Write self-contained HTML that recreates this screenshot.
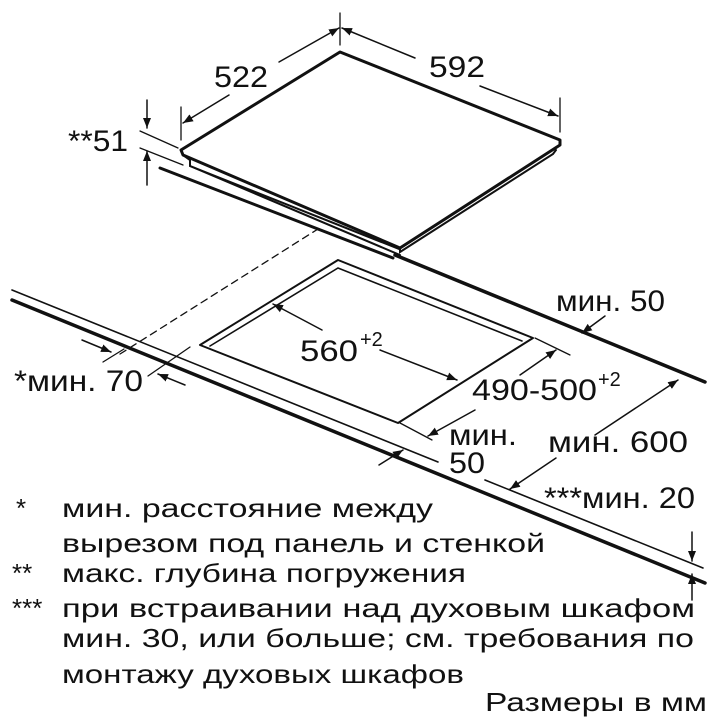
<!DOCTYPE html>
<html><head><meta charset="utf-8"><style>
html,body{margin:0;padding:0;background:#fff}
svg{display:block}
text{font-family:"Liberation Sans",sans-serif;fill:#111}
</style></head><body>
<svg width="720" height="720" viewBox="0 0 720 720" xmlns="http://www.w3.org/2000/svg">
<defs>
<marker id="a" viewBox="0 0 10 10" refX="10" refY="5" markerWidth="10" markerHeight="10" orient="auto-start-reverse" markerUnits="userSpaceOnUse"><path d="M0,1 L10,5 L0,9 z" fill="#111"/></marker>
</defs>
<g stroke="#111" fill="none" stroke-linecap="round">
<path d="M340,52 L181,150 L183,155 L400,248 L560,145 L560,140 Z" stroke-width="3" stroke-linejoin="round"/>
<path d="M183,155 L190,160 L190,166 L399,249" stroke-width="2"/>
<path d="M400,248 L400,252 L553,154 L556,150" stroke-width="2"/>
<path d="M190,166 L400,255" stroke-width="2"/>
<path d="M160,168 L393,258" stroke-width="3"/>
<line x1="340" y1="13" x2="340" y2="45" stroke-width="1.3"/>
<line x1="181" y1="107" x2="181" y2="140" stroke-width="1.3"/>
<line x1="560" y1="98" x2="560" y2="132" stroke-width="1.3"/>
<line x1="279" y1="62" x2="339" y2="28" stroke-width="1.5" marker-end="url(#a)"/>
<line x1="229" y1="95" x2="183" y2="123" stroke-width="1.5" marker-end="url(#a)"/>
<line x1="415" y1="58" x2="342" y2="28" stroke-width="1.5" marker-end="url(#a)"/>
<line x1="480" y1="86" x2="558" y2="116" stroke-width="1.5" marker-end="url(#a)"/>
<line x1="147" y1="100" x2="147" y2="128" stroke-width="1.5" marker-end="url(#a)"/>
<line x1="147" y1="185" x2="147" y2="151" stroke-width="1.5" marker-end="url(#a)"/>
<line x1="140" y1="131" x2="178" y2="148" stroke-width="1.3"/>
<line x1="140" y1="148" x2="183" y2="165" stroke-width="1.3"/>
<path d="M12,300 L705,583" stroke-width="3.5"/>
<path d="M12,290 L438,462" stroke-width="1.6"/>
<path d="M485,480 L703,568" stroke-width="1.6"/>
<path d="M395,255 L705,382" stroke-width="3.5"/>
<path d="M120,354 L318,229" stroke-width="1.3" stroke-dasharray="7,5"/>
<path d="M338,260 L200,345 L398,423 L533,338 Z" stroke-width="2" stroke-linejoin="round"/>
<path d="M210,346 L338,268 L522,341" stroke-width="1.6"/>
<line x1="322" y1="330" x2="273" y2="304" stroke-width="1.5" marker-end="url(#a)"/>
<line x1="380" y1="350" x2="457" y2="380" stroke-width="1.5" marker-end="url(#a)"/>
<line x1="535" y1="338" x2="570" y2="355" stroke-width="1.3"/>
<line x1="400" y1="423" x2="432" y2="440" stroke-width="1.3"/>
<line x1="520" y1="375" x2="556" y2="350" stroke-width="1.5" marker-end="url(#a)"/>
<line x1="475" y1="410" x2="428" y2="436" stroke-width="1.5" marker-end="url(#a)"/>
<line x1="595" y1="435" x2="678" y2="380" stroke-width="1.5" marker-end="url(#a)"/>
<line x1="556" y1="458" x2="510" y2="489" stroke-width="1.5" marker-end="url(#a)"/>
<line x1="605" y1="316" x2="582" y2="333" stroke-width="1.5" marker-end="url(#a)"/>
<line x1="379" y1="465" x2="403" y2="450" stroke-width="1.5" marker-end="url(#a)"/>
<line x1="82" y1="340" x2="111" y2="352" stroke-width="1.5" marker-end="url(#a)"/>
<line x1="185" y1="385" x2="158" y2="374" stroke-width="1.5" marker-end="url(#a)"/>
<line x1="103" y1="362" x2="124" y2="349" stroke-width="1.3"/>
<line x1="148" y1="376" x2="190" y2="347" stroke-width="1.3"/>
<line x1="692" y1="532" x2="692" y2="561" stroke-width="1.5" marker-end="url(#a)"/>
<line x1="692" y1="600" x2="692" y2="574" stroke-width="1.5" marker-end="url(#a)"/>
</g>
<g font-size="30">
<text x="214" y="87" textLength="54" lengthAdjust="spacingAndGlyphs">522</text>
<text x="429" y="77" textLength="56" lengthAdjust="spacingAndGlyphs">592</text>
<text x="68" y="151" textLength="60" lengthAdjust="spacingAndGlyphs">**51</text>
<text x="556" y="311" textLength="109" lengthAdjust="spacingAndGlyphs">мин. 50</text>
<text x="300" y="361" textLength="58" lengthAdjust="spacingAndGlyphs">560</text>
<text x="360" y="346" font-size="20">+2</text>
<text x="472" y="400" textLength="125" lengthAdjust="spacingAndGlyphs">490-500</text>
<text x="598" y="386" font-size="20">+2</text>
<text x="14" y="391" textLength="129" lengthAdjust="spacingAndGlyphs">*мин. 70</text>
<text x="449" y="445" textLength="68" lengthAdjust="spacingAndGlyphs">мин.</text>
<text x="449" y="473" textLength="36" lengthAdjust="spacingAndGlyphs">50</text>
<text x="548" y="452" textLength="140" lengthAdjust="spacingAndGlyphs">мин. 600</text>
<text x="544" y="508" textLength="151" lengthAdjust="spacingAndGlyphs">***мин. 20</text>
</g>
<g font-size="26">
<text x="16" y="517">*</text>
<text x="12" y="582">**</text>
<text x="12" y="617">***</text>
<text x="62" y="517" textLength="371" lengthAdjust="spacingAndGlyphs">мин. расстояние между</text>
<text x="62" y="552" textLength="483" lengthAdjust="spacingAndGlyphs">вырезом под панель и стенкой</text>
<text x="62" y="582" textLength="404" lengthAdjust="spacingAndGlyphs">макс. глубина погружения</text>
<text x="62" y="617" textLength="633" lengthAdjust="spacingAndGlyphs">при встраивании над духовым шкафом</text>
<text x="62" y="647" textLength="632" lengthAdjust="spacingAndGlyphs">мин. 30, или больше; см. требования по</text>
<text x="62" y="683" textLength="402" lengthAdjust="spacingAndGlyphs">монтажу духовых шкафов</text>
<text x="485" y="711" textLength="222" lengthAdjust="spacingAndGlyphs">Размеры в мм</text>
</g>
</svg>
</body></html>
